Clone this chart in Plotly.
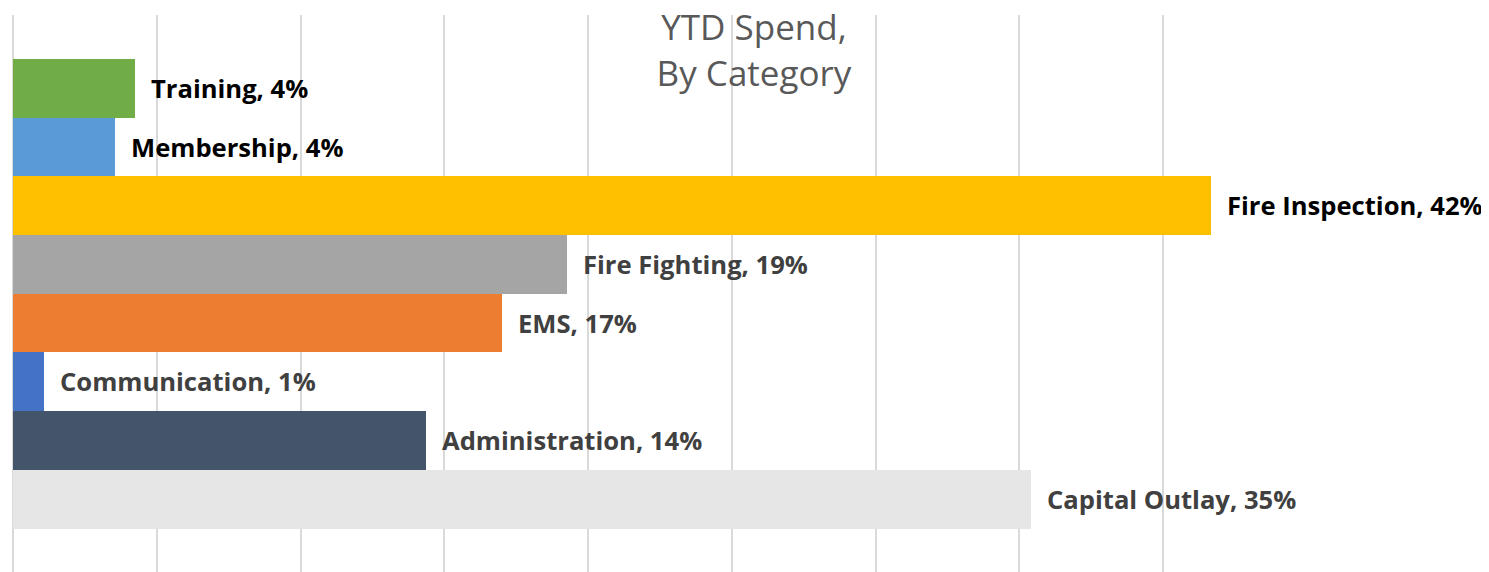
import plotly.graph_objects as go

categories = ["Capital Outlay", "Administration", "Communication", "EMS",
              "Fire Fighting", "Fire Inspection", "Membership", "Training"]
values = [7.08, 2.87, 0.215, 3.40, 3.85, 8.33, 0.71, 0.85]
pct_labels = ["35%", "14%", "1%", "17%", "19%", "42%", "4%", "4%"]
colors = ["#E7E6E6", "#44546A", "#4472C4", "#ED7D31",
          "#A5A5A5", "#FFC000", "#5B9BD5", "#70AD47"]
label_colors = ["#404040", "#404040", "#404040", "#404040",
                "#404040", "#000000", "#000000", "#000000"]

fig = go.Figure()
fig.add_trace(go.Bar(
    y=categories, x=values, orientation="h",
    marker=dict(color=colors, line=dict(width=0)),
    hoverinfo="skip",
))

for c, v, p, lc in zip(categories, values, pct_labels, label_colors):
    fig.add_annotation(
        x=v, y=c, xref="x", yref="y",
        text=f"<b>{c}, {p}</b>", showarrow=False,
        xanchor="left", yanchor="middle", xshift=14,
        font=dict(family="Open Sans", size=25.6, color=lc),
    )

W, H = 1481, 564
fig.update_layout(
    width=W, height=H,
    margin=dict(l=5, r=182, t=7, b=0),
    paper_bgcolor="white", plot_bgcolor="white",
    bargap=0, showlegend=False,
    title=dict(text="YTD Spend,<br>By Category", x=746 / W, xanchor="center",
               xref="container", y=1 - 32 / H, yanchor="top", yref="container",
               font=dict(family="Open Sans", size=35, color="#595959")),
    xaxis=dict(range=[0, 9], dtick=1, showticklabels=False, showgrid=True,
               gridcolor="#D9D9D9", gridwidth=2, zeroline=True,
               zerolinecolor="#D9D9D9", zerolinewidth=2, showline=False, ticks=""),
    yaxis=dict(range=[-1.24, 8.25], showticklabels=False, showgrid=False,
               zeroline=False, showline=False, ticks=""),
)

fig.write_html("out.html")
